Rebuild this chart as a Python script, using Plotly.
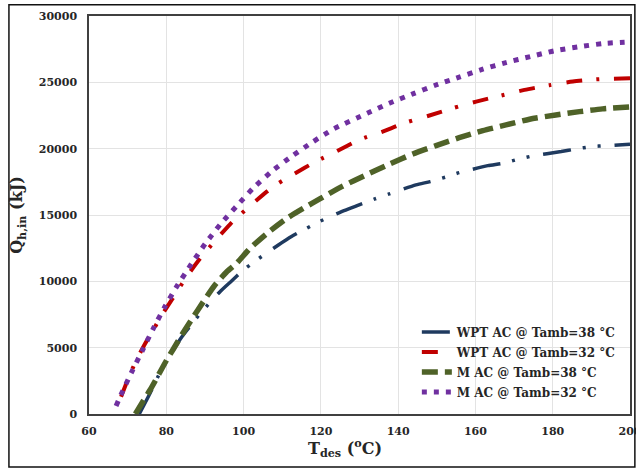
import plotly.graph_objects as go

# WPT AC @ Tamb=38 °C
t_wpt38 = [73.0, 75.5, 78.0, 80.0, 82.2, 84.0, 86.8, 89.2, 93.9, 96.9, 99.9, 103.4, 109.0, 112.4,
           116.0, 119.6, 126.0, 129.9, 133.8, 137.7, 144.6, 148.3, 152.2, 155.8, 163.2, 167.1,
           171.0, 174.8, 182.2, 186.1, 189.9, 193.8, 200.0]
q_wpt38 = [0, 1400, 2900, 3950, 5000, 5800, 6850, 7720, 9220, 10030, 10840, 11610, 12740, 13380,
           13950, 14500, 15330, 15760, 16190, 16590, 17270, 17520, 17850, 18190, 18720, 18900,
           19200, 19450, 19780, 19980, 20150, 20230, 20330]

# WPT AC @ Tamb=32 °C
t_wpt32 = [68.3, 70.0, 72.0, 74.5, 76.2, 78.5, 81.4, 85.3, 88.7, 93.2, 96.5, 99.2, 102.5, 106.0,
           109.0, 112.9, 118.7, 124.1, 129.9, 136.0, 142.0, 148.1, 154.1, 160.2, 166.6, 172.7,
           179.1, 185.2, 192.1, 200.0]
q_wpt32 = [1300, 2560, 3900, 5300, 6100, 7300, 8600, 10360, 11700, 13250, 14300, 15050, 15890, 16760,
           17390, 18070, 19030, 19800, 20660, 21290, 21970, 22500, 23050, 23550, 24000, 24430,
           24780, 25060, 25240, 25300]

# M AC @ Tamb=38 °C
t_mac38 = [72.0, 74.2, 75.8, 77.5, 80.1, 81.8, 84.0, 86.6, 89.6, 92.4, 95.6, 98.2, 101.7, 106.0,
           111.2, 115.5, 119.6, 125.4, 131.7, 137.7, 143.8, 149.8, 155.8, 161.9, 167.9, 174.0,
           180.8, 186.9, 192.9, 200.0]
q_mac38 = [0, 1060, 1810, 2690, 4070, 4880, 5960, 7140, 8470, 9650, 10700, 11360, 12490, 13600,
           14750, 15510, 16190, 17140, 18020, 18830, 19600, 20230, 20830, 21360, 21790, 22220,
           22540, 22790, 23000, 23150]

# M AC @ Tamb=32 °C
t_mac32 = [67.0, 68.3, 71.0, 73.9, 76.7, 79.7, 83.0, 86.5, 90.1, 94.0, 98.3, 102.6, 107.4, 112.6,
           117.8, 123.2, 132.0, 137.7, 143.8, 149.6, 155.8, 161.9, 167.9, 174.2, 180.3, 186.6,
           192.9, 200.0]
q_mac32 = [600, 1460, 3140, 4830, 6480, 8120, 9750, 11310, 12840, 14300, 15700, 17060, 18320, 19450,
           20490, 21470, 22670, 23420, 24130, 24780, 25390, 25990, 26490, 26940, 27370, 27670,
           27920, 28050]

x_ticks = [60, 80, 100, 120, 140, 160, 180, 200]
y_ticks = [0, 5000, 10000, 15000, 20000, 25000, 30000]
names = ["WPT AC @ Tamb=38 °C", "WPT AC @ Tamb=32 °C", "M AC @ Tamb=38 °C", "M AC @ Tamb=32 °C"]

FONT = "DejaVu Serif"
TXT = "#262626"

series = [
    (t_wpt38, q_wpt38, dict(color="#1F3A5F", width=3.5, dash="28px,12px,3px,12px,3px,14px")),
    (t_wpt32, q_wpt32, dict(color="#C00000", width=4, dash="16px,14px,3px,15px")),
    (t_mac38, q_mac38, dict(color="#4F6228", width=5.5, dash="16px,7px")),
    (t_mac32, q_mac32, dict(color="#7030A0", width=5, dash="5px,7px")),
]

fig = go.Figure()
for i, ((tx, qy, ln), n) in enumerate(zip(series, names)):
    fig.add_trace(go.Scatter(x=tx, y=qy, mode="lines", name=f"<b>{n}</b>", legendgroup=f"g{i}",
                             line=dict(shape="spline", smoothing=0.6, **ln)))

axis_common = dict(showgrid=True, gridcolor="#E3E3E3", gridwidth=1, showline=True, mirror=True,
                   linecolor="#404040", linewidth=1.5, ticks="", zeroline=False, automargin=False,
                   tickfont=dict(family=FONT, size=11, color=TXT))

fig.update_layout(
    width=636, height=469,
    margin=dict(l=89, r=6, t=16, b=55, autoexpand=False),
    paper_bgcolor="white", plot_bgcolor="white",
    font=dict(family=FONT, color=TXT),
    xaxis=dict(range=[60, 200], tickvals=x_ticks, ticktext=[f"<b>{v}</b>" for v in x_ticks],
               ticklabelstandoff=6, ticklabeloverflow="allow", **axis_common),
    yaxis=dict(range=[0, 30000], tickvals=y_ticks, ticktext=[f"<b>{v}</b>" for v in y_ticks],
               ticklabelstandoff=8,
               title=dict(text="<b>Q<sub>h,in</sub> (kJ)</b>", font=dict(family=FONT, size=16, color=TXT),
                          standoff=12),
               **axis_common),
    legend=dict(x=0.606, y=0.2425, xanchor="left", yanchor="top", bgcolor="rgba(255,255,255,0)",
                font=dict(family=FONT, size=12, color=TXT), tracegroupgap=1,
                itemwidth=30),
    showlegend=True,
)

# x-axis title
fig.add_annotation(text="<b>T<sub>des</sub> (<sup>o</sup>C)</b>", xref="paper", yref="paper",
                   x=0.473, y=-0.085, xanchor="center", yanchor="middle", showarrow=False,
                   font=dict(family=FONT, size=16, color=TXT))

# outer frame around the figure
fig.add_shape(type="rect", xref="paper", yref="paper", x0=-0.148, x1=1.009, y0=-0.133, y1=1.028,
              line=dict(color="#111111", width=1.5), fillcolor="rgba(0,0,0,0)", layer="below")

fig.write_html("out.html", config={"displayModeBar": False},
               post_script="document.body.style.margin='0';")
